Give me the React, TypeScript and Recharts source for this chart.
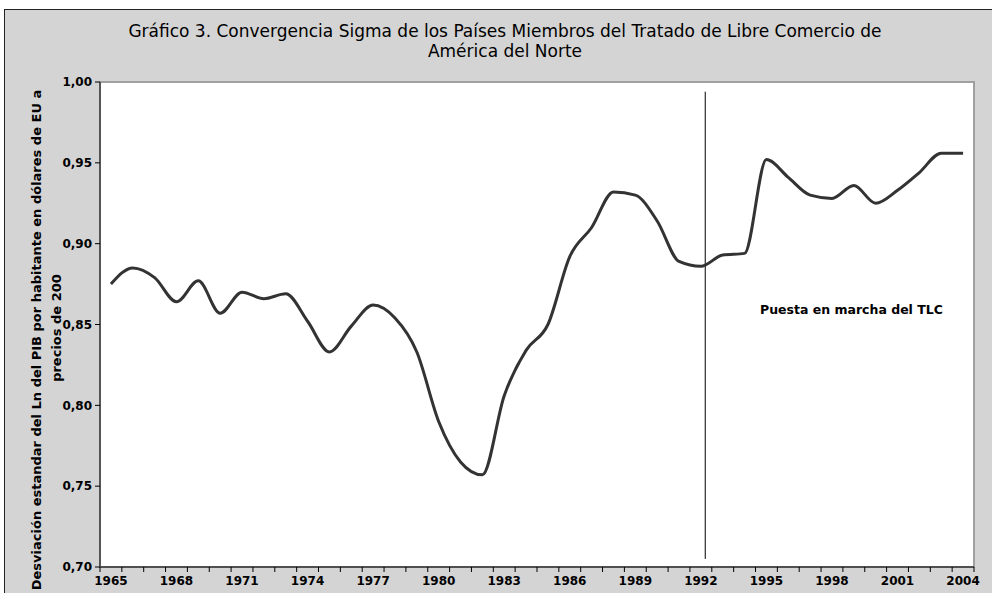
import React from 'react'
import { LineChart, Line, XAxis, YAxis, ReferenceArea, ReferenceLine } from 'recharts'

// años y sigma (desviación estándar del ln del PIB per cápita)
const years = [
  1965, 1966, 1967, 1968, 1969, 1970, 1971, 1972, 1973, 1974,
  1975, 1976, 1977, 1978, 1979, 1980, 1981, 1982, 1983, 1984,
  1985, 1986, 1987, 1988, 1989, 1990, 1991, 1992, 1993, 1994,
  1995, 1996, 1997, 1998, 1999, 2000, 2001, 2002, 2003, 2004,
]
const sigma = [
  0.875, 0.885, 0.879, 0.864, 0.877, 0.857, 0.870, 0.866, 0.869, 0.852,
  0.833, 0.849, 0.862, 0.854, 0.833, 0.790, 0.765, 0.757, 0.806, 0.834,
  0.850, 0.892, 0.910, 0.932, 0.930, 0.914, 0.889, 0.886, 0.893, 0.894,
  0.952, 0.941, 0.930, 0.928, 0.936, 0.925, 0.933, 0.944, 0.956, 0.956,
]
const yTicks = [0.7, 0.75, 0.8, 0.85, 0.9, 0.95, 1.0]
const labelYears = [1965, 1968, 1971, 1974, 1977, 1980, 1983, 1986, 1989, 1992, 1995, 1998, 2001, 2004]
const tlcYear = 1992.2

const data = years.map((y, i) => ({ year: y, value: sigma[i] }))
// tick marks between categories (Excel style)
const xTicks = [...years.map(y => y - 0.5), years[years.length - 1] + 0.5]

const FONT = '"DejaVu Sans", Verdana, sans-serif'
const HALF_BAND = 874 / 40 / 2

function XTick(props: any) {
  const { x, y, payload } = props
  const yr = payload.value + 0.5
  if (!labelYears.includes(yr)) return null
  return (
    <text x={x + HALF_BAND} y={y} dy="0.71em" textAnchor="middle" fontFamily={FONT} fontSize={12} fontWeight="bold" fill="#000">
      {yr}
    </text>
  )
}

export default function App() {
  return (
    <div style={{ position: 'absolute', left: 4, top: 9, width: 988, height: 584, boxSizing: 'border-box', background: '#d4d4d4', borderTop: '1px solid #222', borderLeft: '1px solid #222', overflow: 'hidden' }}>
      <div style={{ position: 'absolute', left: 0, top: 11, width: 1000, textAlign: 'center', fontFamily: FONT, fontSize: 17, lineHeight: '20px', color: '#000' }}>
        Gráfico 3. Convergencia Sigma de los Países Miembros del Tratado de Libre Comercio de<br />América del Norte
      </div>
      <div style={{ position: 'absolute', left: 32 - 400, top: 330, width: 800, height: 0, transform: 'rotate(-90deg)', transformOrigin: '400px 0', fontFamily: FONT, fontSize: 13, fontWeight: 'bold', lineHeight: '19px', textAlign: 'center', whiteSpace: 'nowrap', color: '#000' }}>
        <div style={{ position: 'absolute', top: -10, left: 0, width: 800 }}>Desviación estandar del Ln del PIB por habitante en dólares de EU a</div>
        <div style={{ position: 'absolute', top: 10, left: 12, width: 800 }}>precios de 200</div>
      </div>
      <LineChart width={988} height={584} data={data} margin={{ top: 72, right: 19, bottom: 2, left: 35 }}>
        <XAxis
          dataKey="year"
          type="number"
          domain={[1964.5, 2004.5]}
          ticks={xTicks}
          interval={0}
          tick={<XTick />}
          tickSize={5}
          tickMargin={4}
          height={25}
          axisLine={{ stroke: '#000', strokeWidth: 1 }}
          tickLine={{ stroke: '#000' }}
        />
        <YAxis
          type="number"
          domain={[0.7, 1.0]}
          ticks={yTicks}
          interval={0}
          width={60}
          tickSize={5}
          tickMargin={3}
          tickFormatter={(v: number) => v.toFixed(2).replace('.', ',')}
          tick={{ fontFamily: FONT, fontSize: 12, fontWeight: 'bold', fill: '#000' }}
          axisLine={{ stroke: '#555', strokeWidth: 2 }}
          tickLine={{ stroke: '#000' }}
        />
        <ReferenceArea x1={1964.5} x2={2004.5} y1={0.7} y2={1.0} fill="#fff" fillOpacity={1} stroke="#a0a0a0" strokeWidth={2} />
        <ReferenceLine
          segment={[{ x: tlcYear, y: 0.994 }, { x: tlcYear, y: 0.705 }]}
          stroke="#000"
          strokeWidth={1}
        />
        <Line type="monotone" dataKey="value" stroke="#333" strokeWidth={3} dot={false} isAnimationActive={false} />
      </LineChart>
      <div style={{ position: 'absolute', left: 755, top: 292, fontFamily: FONT, fontSize: 12.5, fontWeight: 'bold', color: '#000' }}>
        Puesta en marcha del TLC
      </div>
    </div>
  )
}
